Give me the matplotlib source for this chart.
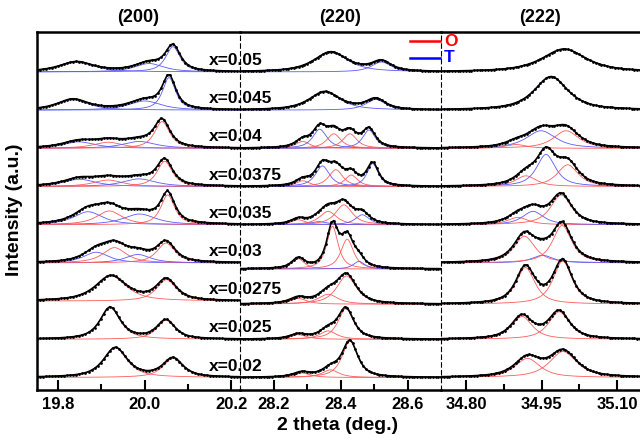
import numpy as np
import matplotlib.pyplot as plt
from matplotlib.lines import Line2D

plt.rcParams['font.family'] = ['Liberation Sans', 'DejaVu Sans']
plt.rcParams['font.weight'] = 'bold'

compositions = ['0.02', '0.025', '0.0275', '0.03', '0.035', '0.0375', '0.04', '0.045', '0.05']

reflections = ['(200)', '(220)', '(222)']
x_ranges = [(19.751, 20.220), (28.10, 28.70), (34.75, 35.146)]
scan_steps = [0.007, 0.008, 0.0055]
major_ticks = [[19.8, 20.0, 20.2], [28.2, 28.4, 28.6], [34.80, 34.95, 35.10]]
minor_ticks = [[19.9, 20.1], [28.3, 28.5], [34.875, 35.025]]
tick_formats = ['%.1f', '%.1f', '%.2f']

# fitted peaks per composition (bottom to top): (centre, height, fwhm, phase)
peaks_200 = [
    [(19.932, 0.78, 0.065, 'O'), (20.065, 0.50, 0.055, 'O')],
    [(19.920, 0.84, 0.055, 'O'), (20.049, 0.50, 0.050, 'O')],
    [(19.922, 0.66, 0.085, 'O'), (20.050, 0.56, 0.055, 'O')],
    [(19.888, 0.28, 0.070, 'T'), (19.930, 0.40, 0.065, 'O'), (19.984, 0.22, 0.070, 'T'), (20.049, 0.52, 0.050, 'O')],
    [(19.869, 0.34, 0.080, 'T'), (19.918, 0.36, 0.070, 'O'), (19.988, 0.28, 0.090, 'T'), (20.053, 0.78, 0.038, 'O')],
    [(19.849, 0.19, 0.090, 'T'), (19.915, 0.17, 0.080, 'O'), (19.987, 0.20, 0.090, 'T'), (20.046, 0.66, 0.042, 'O')],
    [(19.847, 0.17, 0.090, 'T'), (19.915, 0.16, 0.080, 'O'), (19.987, 0.18, 0.090, 'T'), (20.040, 0.70, 0.042, 'O')],
    [(19.834, 0.28, 0.085, 'T'), (20.000, 0.24, 0.090, 'T'), (20.056, 0.85, 0.036, 'T')],
    [(19.842, 0.26, 0.095, 'T'), (20.010, 0.22, 0.080, 'T'), (20.065, 0.66, 0.040, 'T')],
]
peaks_220 = [
    [(28.284, 0.12, 0.060, 'O'), (28.370, 0.20, 0.060, 'O'), (28.428, 0.95, 0.055, 'O')],
    [(28.274, 0.12, 0.060, 'O'), (28.363, 0.22, 0.060, 'O'), (28.416, 0.80, 0.055, 'O')],
    [(28.274, 0.15, 0.060, 'O'), (28.363, 0.26, 0.070, 'O'), (28.418, 0.74, 0.070, 'O')],
    [(28.274, 0.27, 0.045, 'O'), (28.376, 1.12, 0.040, 'O'), (28.420, 0.78, 0.045, 'O'), (28.455, 0.20, 0.040, 'T')],
    [(28.274, 0.13, 0.050, 'O'), (28.335, 0.08, 0.060, 'T'), (28.363, 0.35, 0.060, 'O'), (28.410, 0.52, 0.060, 'O'), (28.465, 0.26, 0.050, 'T')],
    [(28.287, 0.15, 0.050, 'O'), (28.346, 0.54, 0.050, 'T'), (28.386, 0.44, 0.050, 'O'), (28.432, 0.30, 0.045, 'O'), (28.496, 0.60, 0.040, 'T')],
    [(28.287, 0.18, 0.050, 'O'), (28.338, 0.50, 0.050, 'T'), (28.380, 0.38, 0.050, 'O'), (28.428, 0.38, 0.050, 'O'), (28.485, 0.48, 0.045, 'T')],
    [(28.353, 0.48, 0.110, 'T'), (28.505, 0.28, 0.070, 'T')],
    [(28.371, 0.52, 0.120, 'T'), (28.522, 0.26, 0.070, 'T')],
]
peaks_222 = [
    [(34.922, 0.50, 0.060, 'O'), (34.993, 0.68, 0.065, 'O')],
    [(34.911, 0.60, 0.050, 'O'), (34.985, 0.72, 0.050, 'O')],
    [(34.918, 0.96, 0.045, 'O'), (34.992, 1.13, 0.045, 'O')],
    [(34.916, 0.70, 0.050, 'O'), (34.952, 0.20, 0.050, 'T'), (34.991, 0.98, 0.045, 'O')],
    [(34.903, 0.19, 0.050, 'O'), (34.933, 0.35, 0.050, 'T'), (34.989, 0.78, 0.050, 'O')],
    [(34.919, 0.28, 0.050, 'O'), (34.959, 0.84, 0.045, 'T'), (35.002, 0.57, 0.050, 'O')],
    [(34.899, 0.10, 0.050, 'O'), (34.949, 0.46, 0.070, 'T'), (34.999, 0.46, 0.060, 'O')],
    [(34.969, 0.88, 0.080, 'T')],
    [(34.995, 0.60, 0.105, 'T')],
]
all_peaks = [peaks_200, peaks_220, peaks_222]

# small vertical offsets of individual scans
baseline_shift = [
    [0, 0, 0, 0, 0, 0, 0, 0, 0],
    [0, 0, -0.08, -0.16, 0, 0, 0, 0, 0],
    [0, 0, -0.08, 0, 0, 0, 0, 0, 0],
]

phase_colors = {'O': '#ff5a5a', 'T': '#5a5aff'}


def pseudo_voigt(x, centre, height, fwhm, eta=0.8):
    r = 2 * (x - centre) / fwhm
    return height * (eta / (1 + r**2) + (1 - eta) * np.exp(-np.log(2) * r**2))


fig = plt.figure(figsize=(6.4, 4.42), dpi=100)
edges = [37, 240, 441, 640]
axes = []
for k in range(3):
    ax = fig.add_axes([edges[k] / 640, 52 / 442, (edges[k + 1] - edges[k]) / 640, 358 / 442])
    ax.patch.set_visible(False)
    lo, hi = x_ranges[k]
    x_fine = np.linspace(lo, hi, 500)
    x_scan = np.arange(lo, hi + 1e-9, scan_steps[k])
    for i, peaks in enumerate(all_peaks[k]):
        offset = i + baseline_shift[k][i]
        total = np.zeros_like(x_scan)
        for centre, height, fwhm, phase in peaks:
            ax.plot(x_fine, offset + pseudo_voigt(x_fine, centre, height, fwhm),
                    color=phase_colors[phase], lw=0.6, zorder=2)
            total += pseudo_voigt(x_scan, centre, height, fwhm)
        ax.plot(x_scan, offset + total, color='black', lw=1.2, marker='o', ms=2.0,
                mew=0, zorder=3)

    ax.set_xlim(lo, hi)
    ax.set_ylim(-0.327, 9.045)
    ax.set_yticks([])
    ax.set_xticks(major_ticks[k])
    ax.set_xticks(minor_ticks[k], minor=True)
    ax.set_xticklabels([tick_formats[k] % t for t in major_ticks[k]])
    ax.tick_params(axis='x', which='major', direction='in', length=7, width=1.5,
                   labelsize=12, pad=5)
    ax.tick_params(axis='x', which='minor', direction='in', length=4, width=1.5)
    for side in ['top', 'bottom']:
        ax.spines[side].set_linewidth(1.8)
    ax.spines['right'].set_visible(False)
    if k == 0:
        ax.spines['left'].set_linewidth(1.8)
    else:
        ax.spines['left'].set_linewidth(0.8)
        ax.spines['left'].set_linestyle((0, (4, 3)))
    ax.text(0.5, 1 + 15 / 358, reflections[k], transform=ax.transAxes,
            ha='center', va='center', fontsize=13)
    axes.append(ax)

for i, c in enumerate(compositions):
    axes[0].text(20.1487, i + 0.3, 'x=' + c, fontsize=12.5, ha='left', va='center',
                 clip_on=False, zorder=10)

# phase legend
for y, color, name in [(41, 'red', 'O'), (58, 'blue', 'T')]:
    fig.add_artist(Line2D([410 / 640, 440 / 640], [1 - y / 442, 1 - y / 442],
                          transform=fig.transFigure, color=color, lw=1.8))
    fig.text(444 / 640, 1 - y / 442, name, color=color, fontsize=12.5,
             ha='left', va='center')

fig.text(338 / 640, 1 - 425 / 442, '2 theta (deg.)', ha='center', va='center', fontsize=14)
fig.text(15 / 640, 1 - 210 / 442, 'Intensity (a.u.)', ha='center', va='center',
         rotation=90, fontsize=14)

fig.savefig('out.png', dpi=100)
